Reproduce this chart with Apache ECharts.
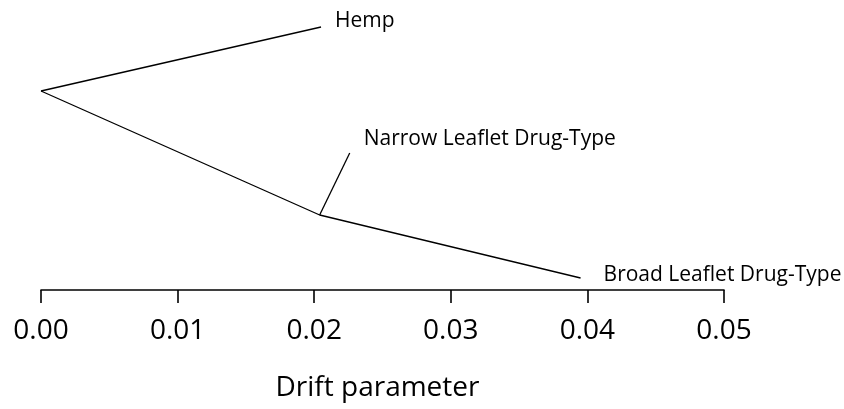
<!DOCTYPE html>
<html>
<head>
<meta charset="utf-8">
<script src="https://cdn.jsdelivr.net/npm/echarts@6/dist/echarts.min.js"></script>
<style>
  html, body { margin: 0; padding: 0; background: #fff; }
  #chart { width: 844px; height: 409px; }
</style>
</head>
<body>
<div id="chart"></div>
<script>
// drift tree: x = drift parameter, y = arbitrary vertical layout units
const tickValues = [0, 0.01, 0.02, 0.03, 0.04, 0.05];
const hempBranch = [[0, 19.9], [0.0205, 26.3]];
const lowerBranch = [[0, 19.9], [0.0204, 7.5], [0.0395, 1.2]];
const narrowPointer = [[0.0204, 7.5], [0.0226, 13.7]];
const tipNames = ['Hemp', 'Narrow Leaflet Drug-Type', 'Broad Leaflet Drug-Type'];

const font = '"Open Sans", sans-serif';
const lineStyle = { color: '#000', width: 1.3 };

const tipLabel = (name, offset, distance) => ({
  show: true,
  position: 'right',
  distance: distance,
  offset: offset,
  formatter: name,
  color: '#000',
  fontFamily: font,
  fontSize: 21
});

// only the last point of a branch carries the tip name
const withLabel = (points, name, offset, distance) =>
  points.map((p, i) => i === points.length - 1
    ? { value: p, label: tipLabel(name, offset, distance) }
    : { value: p });

const branchSeries = (data) => ({
  type: 'line',
  symbol: 'circle',
  symbolSize: 0,
  showSymbol: true,
  silent: true,
  lineStyle,
  itemStyle: { color: '#000' },
  data
});

const chart = echarts.init(document.getElementById('chart'));
chart.setOption({
  animation: false,
  grid: { left: 41, right: 120, top: 10, bottom: 119 },
  xAxis: {
    type: 'value',
    min: tickValues[0],
    max: tickValues[tickValues.length - 1],
    interval: 0.01,
    name: 'Drift parameter',
    nameLocation: 'middle',
    nameGap: 84,
    nameTextStyle: { color: '#000', fontFamily: font, fontSize: 28, padding: [0, 10, 0, 0] },
    axisLine: { lineStyle: { color: '#000', width: 1.6 } },
    axisTick: { length: 13, lineStyle: { color: '#000', width: 1.6 } },
    axisLabel: {
      color: '#000', fontFamily: font, fontSize: 28, margin: 27,
      formatter: v => v.toFixed(2)
    },
    splitLine: { show: false }
  },
  yAxis: { type: 'value', min: 0, max: 28, show: false },
  series: [
    branchSeries(withLabel(hempBranch, tipNames[0], [0, -6], 14)),
    branchSeries(withLabel(narrowPointer, tipNames[1], [0, -14], 14)),
    branchSeries(withLabel(lowerBranch, tipNames[2], [0, -3], 23))
  ]
});
</script>
</body>
</html>
